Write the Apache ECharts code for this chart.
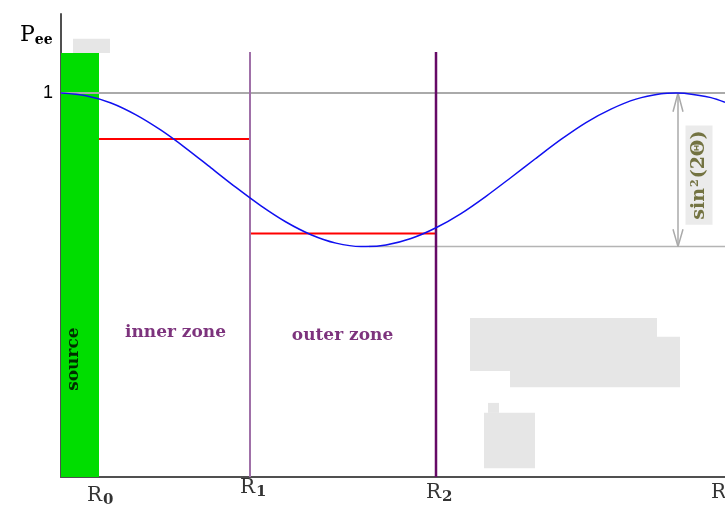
<!DOCTYPE html>
<html><head><meta charset="utf-8">
<script src="https://cdn.jsdelivr.net/npm/echarts@6/dist/echarts.min.js"></script>
<style>html,body{margin:0;padding:0;background:#fff}#c{width:725px;height:518px}</style>
</head><body><div id="c"></div>
<script>
// ---- data ----
const distance = [0,0.25,0.5,0.75,1.0,1.25,1.5,1.75,2.0,2.25,2.5,2.75,3.0,3.05,3.25,3.5,3.75,4.0,4.25,4.5,4.75,5.0,5.25,5.5,5.75,6.0,6.15,6.25,6.5,6.64];
const pee      = [1.000,0.993,0.974,0.943,0.903,0.856,0.805,0.754,0.706,0.664,0.631,0.609,0.600,0.600,0.604,0.621,0.649,0.686,0.731,0.780,0.830,0.879,0.923,0.958,0.984,0.998,1.000,0.999,0.988,0.976];
const zoneEdges = [0.38, 1.89, 3.75, 6.64];      // R0, R1, R2, R3
const tickSubs  = ['0', '1', '2', '3'];
const zoneLevels = [0.880, 0.634];               // mean Pee in inner / outer zone
const zoneNames = ['inner zone', 'outer zone'];
const zoneLabelAt = [[1.145, 0.375], [2.815, 0.367]];
const unitLevel = 1;
const minLevel = 0.600;
const minAt = 3.08;
const lineTop = 1.107;
const sourceTop = 1.104;
const arrowX = 6.17;
const blankPatches = [ // x0, y0, x1, y1
  [0.12, 1.104, 0.49, 1.141],
  [4.09, 0.276, 5.96, 0.414],
  [4.49, 0.234, 6.19, 0.365],
  [4.23, 0.023, 4.74, 0.167],
  [4.27, 0.167, 4.38, 0.193]
];

const chart = echarts.init(document.getElementById('c'), null, {renderer: 'canvas'});
const serif = 'DejaVu Serif';

function rectSeries(name, rows, color, z) {
  return {
    name, type: 'custom', z, silent: true, clip: false,
    data: rows,
    renderItem: (params, api) => {
      const p0 = api.coord([api.value(0), api.value(3)]);
      const p1 = api.coord([api.value(2), api.value(1)]);
      return {type: 'rect', shape: {x: p0[0], y: p0[1], width: p1[0] - p0[0], height: p1[1] - p0[1]}, style: {fill: color}};
    }
  };
}
function seg(name, pts, color, width, z) {
  return {name, type: 'line', data: pts, symbol: 'none', z, silent: true,
    lineStyle: {color, width}, animation: false};
}
const tickOffsets = [[-12, 19], [-10, 11], [-10, 16], [-14, 16]];
const zoneColor = '#5c005c';

const option = {
  animation: false,
  grid: {left: 61, right: 0, top: 14, bottom: 41},
  xAxis: {type: 'value', min: 0, max: zoneEdges[3],
    axisLine: {show: true, lineStyle: {color: '#505050', width: 2}},
    axisTick: {show: false}, axisLabel: {show: false}, splitLine: {show: false}},
  yAxis: {type: 'value', min: 0, max: 463 / 384, interval: 1,
    axisLine: {show: true, lineStyle: {color: '#505050', width: 2}},
    axisTick: {show: false}, splitLine: {show: false},
    axisLabel: {formatter: v => (v === 1 ? '1' : ''), fontFamily: 'Liberation Sans', fontSize: 18, color: '#000', margin: 8}},
  graphic: [{type: 'text', left: 20, top: 24, z: 10,
    style: {text: '{p|P}{e|ee}', rich: {
      p: {fontFamily: serif, fontSize: 22, fill: '#000'},
      e: {fontFamily: serif, fontSize: 14, fontWeight: 'bold', fill: '#000', padding: [10, 0, 0, 0]}}}}],
  series: [
    rectSeries('source', [[0, 0, zoneEdges[0], sourceTop]], '#00dd00', 1),
    rectSeries('blank', blankPatches, '#e6e6e6', 1),
    seg('unit', [[0, unitLevel], [zoneEdges[3], unitLevel]], '#aaaaaa', 2, 2),
    seg('min', [[minAt, minLevel], [zoneEdges[3], minLevel]], '#b4b4b4', 1.5, 2),
    seg('arrow', [[arrowX, minLevel], [arrowX, unitLevel]], '#aaaaaa', 1.5, 2),
    seg('arrowTop', [[arrowX - 0.05, unitLevel - 0.049], [arrowX, unitLevel], [arrowX + 0.05, unitLevel - 0.049]], '#aaaaaa', 1.5, 2),
    seg('arrowBot', [[arrowX - 0.05, minLevel + 0.045], [arrowX, minLevel], [arrowX + 0.05, minLevel + 0.045]], '#aaaaaa', 1.5, 2),
    seg('innerMean', [[zoneEdges[0], zoneLevels[0]], [zoneEdges[1], zoneLevels[0]]], '#ff0000', 2, 3),
    seg('outerMean', [[zoneEdges[1], zoneLevels[1]], [zoneEdges[2], zoneLevels[1]]], '#ff0000', 2, 3),
    seg('R1', [[zoneEdges[1], 0], [zoneEdges[1], lineTop]], '#a070a8', 2, 4),
    seg('R2', [[zoneEdges[2], 0], [zoneEdges[2], lineTop]], '#660a66', 2.5, 4),
    {name: 'Pee', type: 'line', smooth: 0.3, symbol: 'none', z: 5, silent: true,
      data: distance.map((d, i) => [d, pee[i]]), lineStyle: {color: '#1010f0', width: 1.5}},
    {name: 'labels', type: 'scatter', symbolSize: 1, z: 8, silent: true, clip: false,
      itemStyle: {color: 'rgba(0,0,0,0)'},
      data: [
        ...zoneNames.map((n, i) => ({value: zoneLabelAt[i], label: {show: true, position: 'inside', formatter: n,
          fontFamily: serif, fontWeight: 'bold', fontSize: 17, color: zoneColor}})),
        {value: [0.13, 0.307], label: {show: true, position: 'inside', formatter: 'source', rotate: 90,
          fontFamily: serif, fontWeight: 'bold', fontSize: 17, color: '#000'}},
        {value: [6.38, 0.786], label: {show: true, position: 'inside', rotate: 90,
          formatter: '{t|sin}{p|2}{t|(2Θ)}', backgroundColor: '#e6e6e6', padding: [4, 5],
          rich: {t: {fontFamily: serif, fontWeight: 'bold', fontSize: 19, color: '#555518'},
                 p: {fontFamily: serif, fontWeight: 'bold', fontSize: 11, color: '#555518', padding: [0, 1, 8, 1]}}}},
        ...zoneEdges.map((x, i) => ({value: [x, 0], label: {show: true, position: 'inside', align: 'left',
          offset: tickOffsets[i], formatter: '{r|R}{s|' + tickSubs[i] + '}',
          rich: {r: {fontFamily: serif, fontSize: 20, color: '#000'},
                 s: {fontFamily: serif, fontWeight: 'bold', fontSize: 15, color: '#000', padding: [9, 0, 0, 1]}}}}))
      ]}
  ]
};
chart.setOption(option);
</script>
</body></html>
